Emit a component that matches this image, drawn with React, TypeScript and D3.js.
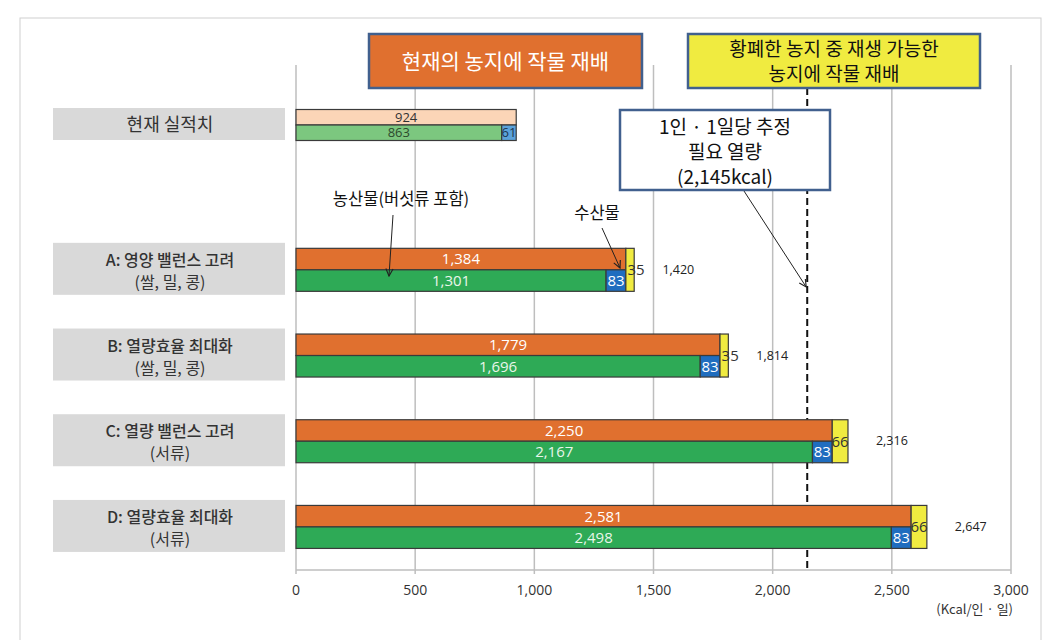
import React from "react";
import * as d3 from "d3";

// ---- data ----
const categories = [
  ["현재 실적치"],
  ["A: 영양 밸런스 고려", "(쌀, 밀, 콩)"],
  ["B: 열량효율 최대화", "(쌀, 밀, 콩)"],
  ["C: 열량 밸런스 고려", "(서류)"],
  ["D: 열량효율 최대화", "(서류)"],
];
const agri = [863, 1301, 1696, 2167, 2498];
const fish = [61, 83, 83, 83, 83];
const subtotal = [924, 1384, 1779, 2250, 2581];
const reclaimed = [0, 35, 35, 66, 66];
const totals = [0, 1420, 1814, 2316, 2647];
const xTicks = [0, 500, 1000, 1500, 2000, 2500, 3000];
const requiredKcal = 2145;

// ---- layout ----
const W = 1060;
const H = 640;
const rowSlot = [0, 1.69, 2.69, 3.69, 4.69];
const KR = "'Noto Sans CJK KR', 'Noto Sans', sans-serif";
const NUM = "'Open Sans', 'Noto Sans', sans-serif";

const x = d3.scaleLinear().domain([0, 3000]).range([296, 1011]);
const y = d3.scaleLinear().domain([0, 1]).range([125, 210.7]);
const fmt = d3.format(",");

const C = {
  orange: "#E0702F",
  green: "#2EAA56",
  blue: "#1F6DBF",
  yellow: "#F0EB40",
  peach: "#FBD5B7",
  lgreen: "#7CC77F",
  lblue: "#5BA2DA",
  grid: "#BEBEBE",
  boxBorder: "#41608E",
  labelBg: "#D9D9D9",
};

export default function App() {
  const axisY = 570;
  const gridTop = 65;
  return (
    <svg
      width={W}
      height={H}
      viewBox={`0 0 ${W} ${H}`}
      style={{ position: "absolute", left: 0, top: 0, background: "#fff" }}
    >
      <defs>
        <marker id="arr" viewBox="0 0 10 10" refX="9" refY="5" markerWidth="9" markerHeight="9" orient="auto-start-reverse">
          <path d="M1,1 L9,5 L1,9" fill="none" stroke="#222" strokeWidth="1.3" />
        </marker>
      </defs>
      <rect x={20} y={18} width={1021} height={640} fill="none" stroke="#cfcfcf" strokeWidth={1} />

      {/* grid */}
      {xTicks.map((t) => (
        <line key={"g" + t} x1={x(t)} x2={x(t)} y1={gridTop} y2={axisY + 4} stroke={C.grid} strokeWidth={1.5} />
      ))}
      <line x1={x(0)} x2={x(3000)} y1={axisY} y2={axisY} stroke={C.grid} strokeWidth={1.5} />
      {xTicks.map((t) => (
        <text key={"t" + t} x={x(t)} y={axisY + 25} textAnchor="middle" fontFamily={NUM} fontSize={14} fill="#333">
          {fmt(t)}
        </text>
      ))}
      <text x={x(3000) + 2} y={axisY + 44} textAnchor="end" fontFamily={KR} fontSize={13} fill="#333">
        (Kcal/인 · 일)
      </text>

      {/* required kcal dashed line */}
      <line x1={x(requiredKcal)} x2={x(requiredKcal)} y1={88} y2={axisY} stroke="#111" strokeWidth={2} strokeDasharray="7,4" />

      {/* category label boxes */}
      {categories.map((lines, i) => {
        const cy = y(rowSlot[i]);
        const bh = i === 0 ? 32 : 52;
        return (
          <g key={"c" + i}>
            <rect x={53} y={cy - bh / 2 - 1} width={232} height={bh} fill={C.labelBg} />
            {lines.map((ln, j) => (
              <text
                key={j}
                x={170}
                y={cy + (lines.length === 1 ? 6 : j === 0 ? -4 : 18)}
                textAnchor="middle"
                fontFamily={KR}
                fontSize={i === 0 ? 18 : 16}
                fontWeight={i > 0 && j === 0 ? 500 : 400}
                fill="#333"
              >
                {ln}
              </text>
            ))}
          </g>
        );
      })}

      {/* bars */}
      {categories.map((_, i) => {
        const cy = y(rowSlot[i]);
        const hh = i === 0 ? 15.5 : 21.5;
        const topC = i === 0 ? C.peach : C.orange;
        const grnC = i === 0 ? C.lgreen : C.green;
        const bluC = i === 0 ? C.lblue : C.blue;
        const txtTop = i === 0 ? "#333" : "#fff";
        const txtGrn = i === 0 ? "#2d4a2d" : "#e9f6ea";
        const txtBlu = i === 0 ? "#1b3550" : "#fff";
        const fs = i === 0 ? 13 : 15;
        const yStart = x(subtotal[i]);
        const yEnd = x(subtotal[i] + reclaimed[i]);
        return (
          <g key={"b" + i} stroke="#3a3a3a" strokeWidth={1.2}>
            <rect x={x(0)} y={cy - hh} width={x(subtotal[i]) - x(0)} height={hh} fill={topC} />
            <rect x={x(0)} y={cy} width={x(agri[i]) - x(0)} height={hh} fill={grnC} />
            <rect x={x(agri[i])} y={cy} width={x(agri[i] + fish[i]) - x(agri[i])} height={hh} fill={bluC} />
            {reclaimed[i] > 0 && (
              <rect x={yStart} y={cy - hh} width={yEnd - yStart} height={hh * 2} fill={C.yellow} />
            )}
            <g stroke="none" fontFamily={NUM} fontSize={fs}>
              <text x={(x(0) + x(subtotal[i])) / 2} y={cy - hh / 2 + fs * 0.36} textAnchor="middle" fill={txtTop}>
                {fmt(subtotal[i])}
              </text>
              <text x={(x(0) + x(agri[i])) / 2} y={cy + hh / 2 + fs * 0.36} textAnchor="middle" fill={txtGrn}>
                {fmt(agri[i])}
              </text>
              <text x={(x(agri[i]) + x(agri[i] + fish[i])) / 2} y={cy + hh / 2 + fs * 0.36} textAnchor="middle" fill={txtBlu}>
                {fish[i]}
              </text>
              {reclaimed[i] > 0 && (
                <text
                  x={(yStart + yEnd) / 2 + (yEnd - yStart < 14 ? 6 : 0)}
                  y={cy + 5.5}
                  textAnchor="middle"
                  fill="#333"
                >
                  {reclaimed[i]}
                </text>
              )}
              {totals[i] > 0 && (
                <text x={x(totals[i]) + 28} y={cy + 4} fontSize={12.5} fill="#222">
                  {fmt(totals[i])}
                </text>
              )}
            </g>
          </g>
        );
      })}

      {/* header boxes */}
      <rect x={369} y={34} width={273} height={54} fill={C.orange} stroke={C.boxBorder} strokeWidth={2.5} />
      <text x={505.5} y={69} textAnchor="middle" fontFamily={KR} fontSize={21} fill="#fff">
        현재의 농지에 작물 재배
      </text>
      <rect x={688} y={34} width={292} height={54} fill={C.yellow} stroke={C.boxBorder} strokeWidth={2.5} />
      <text x={834} y={56} textAnchor="middle" fontFamily={KR} fontSize={19} fill="#111">
        황폐한 농지 중 재생 가능한
      </text>
      <text x={834} y={81} textAnchor="middle" fontFamily={KR} fontSize={19} fill="#111">
        농지에 작물 재배
      </text>

      {/* callout */}
      <line x1={744} y1={191} x2={x(requiredKcal) - 1} y2={287} stroke="#222" strokeWidth={1} markerEnd="url(#arr)" />
      <rect x={620} y={110} width={210} height={80} fill="#fff" stroke={C.boxBorder} strokeWidth={2.5} />
      <text x={725} y={134} textAnchor="middle" fontFamily={KR} fontSize={19} fill="#111">
        1인 · 1일당 추정
      </text>
      <text x={725} y={159} textAnchor="middle" fontFamily={KR} fontSize={19} fill="#111">
        필요 열량
      </text>
      <text x={725} y={184} textAnchor="middle" fontFamily={KR} fontSize={19} fill="#111">
        (2,145kcal)
      </text>

      {/* annotations */}
      <text x={401} y={205} textAnchor="middle" fontFamily={KR} fontSize={16.5} fill="#111">
        농산물(버섯류 포함)
      </text>
      <line x1={393} y1={215} x2={389} y2={276} stroke="#222" strokeWidth={1} markerEnd="url(#arr)" />
      <text x={597} y={219} textAnchor="middle" fontFamily={KR} fontSize={16.5} fill="#111">
        수산물
      </text>
      <line x1={602} y1={228} x2={620} y2={268} stroke="#222" strokeWidth={1} markerEnd="url(#arr)" />
    </svg>
  );
}
